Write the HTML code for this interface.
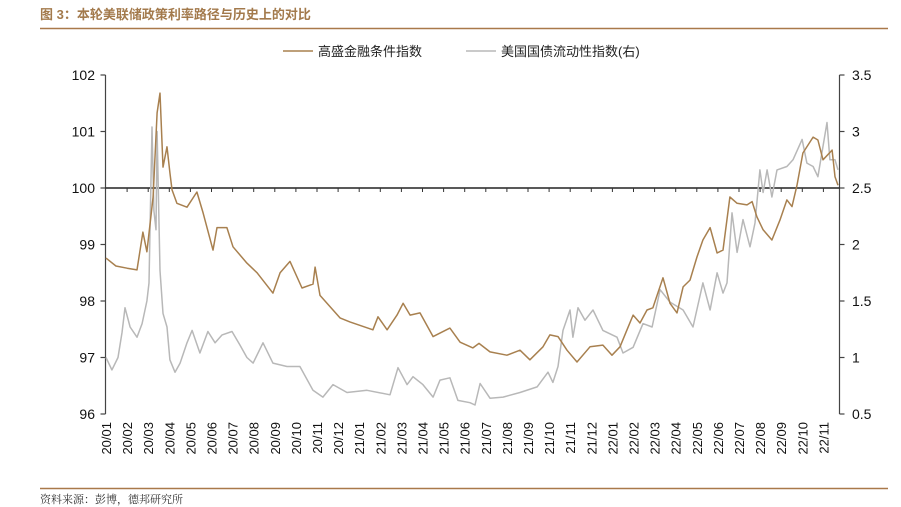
<!DOCTYPE html>
<html><head><meta charset="utf-8"><style>
body{margin:0;background:#fff;}
svg{display:block;font-family:"Liberation Sans","Noto Sans CJK SC",sans-serif;}
</style></head><body>
<svg id="chart" width="901" height="507" viewBox="0 0 901 507">
<text x="40" y="19" font-size="13" font-weight="bold" fill="#a37a4c">图 3：本轮美联储政策利率路径与历史上的对比</text>
<line x1="40" y1="28.5" x2="888" y2="28.5" stroke="#a9794a" stroke-width="1.5"/>
<line x1="40" y1="488.5" x2="888" y2="488.5" stroke="#a9794a" stroke-width="1.5"/>
<text x="40" y="503" font-size="11" fill="#333" font-family="'Liberation Serif','Noto Serif CJK SC',serif">资料来源：彭博，德邦研究所</text>
<g>
<line x1="283" y1="51" x2="313" y2="51" stroke="#a8804f" stroke-width="1.5"/>
<text x="318" y="56" font-size="13" fill="#222">高盛金融条件指数</text>
<line x1="466" y1="51" x2="496" y2="51" stroke="#b8b8b8" stroke-width="1.5"/>
<text x="501" y="56" font-size="13" fill="#222">美国国债流动性指数(右)</text>
</g>
<g id="axes"></g>
<g id="series"></g>
</svg>
<script>
const leftTicks=[96,97,98,99,100,101,102];
const rightTicks=[0.5,1,1.5,2,2.5,3,3.5];
const monthLabels=["20/01","20/02","20/03","20/04","20/05","20/06","20/07","20/08","20/09","20/10","20/11","20/12","21/01","21/02","21/03","21/04","21/05","21/06","21/07","21/08","21/09","21/10","21/11","21/12","22/01","22/02","22/03","22/04","22/05","22/06","22/07","22/08","22/09","22/10","22/11"];
// month index (0 = 2020-01) and values
const gsT=[0,.47,1.0,1.47,1.75,1.94,2.23,2.42,2.56,2.7,2.89,3.03,3.13,3.36,3.84,4.31,4.6,5.07,5.26,5.73,6.02,6.68,7.16,7.91,8.25,8.72,9.29,9.81,9.91,10.14,11.09,11.56,12.65,12.89,13.32,13.79,14.08,14.41,14.88,15.5,16.3,16.78,17.39,17.68,18.2,19.0,19.62,20.09,20.71,21.04,21.42,21.85,22.32,22.94,23.55,23.98,24.36,24.69,24.98,25.31,25.64,25.92,26.4,26.73,27.06,27.35,27.68,28.01,28.29,28.63,28.96,29.24,29.57,29.91,30.38,30.62,30.85,31.14,31.56,31.94,32.27,32.51,32.75,33.03,33.51,33.74,33.98,34.41,34.55,34.69];
const gsV=[98.76,98.62,98.58,98.55,99.22,98.87,99.84,101.33,101.68,100.37,100.73,100.27,99.97,99.73,99.66,99.93,99.56,98.9,99.3,99.3,98.96,98.67,98.5,98.14,98.5,98.7,98.23,98.3,98.6,98.1,97.7,97.63,97.49,97.72,97.49,97.75,97.96,97.75,97.79,97.37,97.52,97.27,97.17,97.25,97.1,97.04,97.13,96.96,97.19,97.4,97.37,97.13,96.92,97.19,97.22,97.04,97.19,97.49,97.75,97.61,97.84,97.88,98.41,97.96,97.79,98.25,98.37,98.78,99.08,99.3,98.85,98.9,99.84,99.73,99.7,99.76,99.49,99.26,99.08,99.43,99.79,99.67,100.05,100.62,100.9,100.85,100.5,100.67,100.2,100.05];
const liqT=[0,.28,.57,.76,.9,1.14,1.47,1.71,1.94,2.04,2.18,2.27,2.37,2.42,2.56,2.7,2.89,3.03,3.27,3.51,3.84,4.08,4.45,4.83,5.17,5.5,5.97,6.35,6.68,6.97,7.44,7.91,8.58,9.19,9.81,10.28,10.76,11.42,12.37,13.46,13.84,14.27,14.55,15.02,15.5,15.83,16.3,16.68,17.25,17.49,17.73,18.2,18.82,19.62,20.43,20.95,21.18,21.42,21.66,21.99,22.13,22.37,22.7,23.08,23.55,24.22,24.5,24.98,25.45,25.88,26.26,26.73,27.35,27.82,28.29,28.63,28.96,29.24,29.43,29.67,29.91,30.19,30.52,30.76,30.99,31.14,31.33,31.56,31.8,32.27,32.56,32.99,33.22,33.51,33.74,34.17,34.31,34.55,34.69];
const liqV=[1.0,0.89,1.0,1.22,1.44,1.27,1.18,1.3,1.5,1.66,3.04,2.3,2.13,3.0,1.77,1.39,1.27,0.98,0.87,0.95,1.13,1.24,1.04,1.23,1.13,1.2,1.23,1.11,1.0,0.95,1.13,0.95,0.92,0.92,0.71,0.65,0.76,0.69,0.71,0.67,0.91,0.76,0.83,0.76,0.65,0.8,0.82,0.62,0.6,0.58,0.77,0.64,0.65,0.69,0.74,0.87,0.78,0.92,1.24,1.42,1.18,1.44,1.33,1.42,1.24,1.18,1.04,1.09,1.3,1.27,1.6,1.49,1.42,1.27,1.66,1.42,1.75,1.57,1.66,2.28,1.93,2.22,1.98,2.19,2.66,2.46,2.66,2.42,2.66,2.69,2.75,2.93,2.72,2.69,2.6,3.08,2.75,2.75,2.66];

const X0=106,DX=21.1,PL=105.5,PR=839.5;
const xs=t=>X0+t*DX;
const yL=v=>75+(102-v)*56.5;
const yR=v=>75+(3.5-v)*113;
const NS="http://www.w3.org/2000/svg";
const axes=document.getElementById('axes'), series=document.getElementById('series');
function mk(tag,attrs,parent){const e=document.createElementNS(NS,tag);for(const k in attrs)e.setAttribute(k,attrs[k]);parent.appendChild(e);return e;}

let e=mk('line',{x1:PL,y1:75,x2:PL,y2:414,stroke:'#444','stroke-width':1.2},axes);


e=mk('line',{x1:PR,y1:75,x2:PR,y2:414,stroke:'#444','stroke-width':1.2},axes);


leftTicks.forEach(v=>{
  mk('line',{x1:PL-5,y1:yL(v),x2:PL,y2:yL(v),stroke:'#444','stroke-width':1.2},axes);
  const t=mk('text',{x:95,y:yL(v)+5,'text-anchor':'end','font-size':14,fill:'#111'},axes);
  t.textContent=v;
  
  
});
rightTicks.forEach(v=>{
  mk('line',{x1:PR,y1:yR(v),x2:PR+5,y2:yR(v),stroke:'#444','stroke-width':1.2},axes);
  const t=mk('text',{x:852,y:yR(v)+5,'font-size':14,fill:'#111'},axes);
  t.textContent=v;
  
  
});
e=mk('line',{x1:PL,y1:yL(100),x2:PR,y2:yL(100),stroke:'#222','stroke-width':1.4},axes);


monthLabels.forEach((m,i)=>{
  const x=xs(i);
  if(i>0) mk('line',{x1:x,y1:yL(100),x2:x,y2:yL(100)+4,stroke:'#333','stroke-width':1},axes);
  const t=mk('text',{x:0,y:0,'text-anchor':'end','font-size':13,fill:'#111',transform:`translate(${x+5},422) rotate(-90)`},axes);
  t.textContent=m;
  
  
});
function path(T,V,yf,color,name){
  const d=T.map((t,i)=>(i?'L':'M')+xs(t).toFixed(1)+','+yf(V[i]).toFixed(1)).join('');
  const p=mk('path',{d:d,fill:'none',stroke:color,'stroke-width':1.5,'stroke-linejoin':'round'},series);
  
  
}
path(liqT,liqV,yR,'#b8b8b8','treasury-liquidity-line');
path(gsT,gsV,yL,'#a8804f','gs-fci-line');
</script>
</body></html>
